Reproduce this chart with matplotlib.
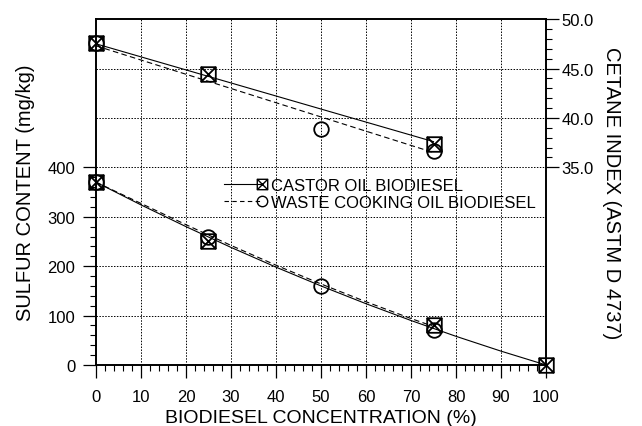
import numpy as np
import matplotlib
matplotlib.use('Agg')
import matplotlib.pyplot as plt
from matplotlib.path import Path
from matplotlib.lines import Line2D
from matplotlib.legend_handler import HandlerLine2D
from matplotlib.ticker import FixedLocator, FormatStrFormatter

plt.rcParams['font.family'] = ['Liberation Sans', 'DejaVu Sans']

# sulfur content (mg/kg)
castor_x = [0, 25, 75, 100]
castor_sulfur = [370, 250, 80, 0]
waste_x = [0, 25, 50, 75]
waste_sulfur = [370, 260, 160, 70]

# cetane index
castor_ci_x = [0, 25, 75]
castor_ci = [47.6, 44.4, 37.4]
waste_ci_x = [0, 50, 75]
waste_ci = [47.6, 38.9, 36.7]

# trend curves
curve_x = [0, 10, 20, 30, 40, 50, 60, 70, 80, 90, 100]
castor_sulfur_fit = [370, 324, 280, 238, 198, 160, 124, 90, 58, 28, 0]
waste_curve_x = [0, 10, 20, 30, 40, 50, 60, 70, 75]
waste_sulfur_fit = [370, 327, 284, 242, 202, 164, 128, 94, 78]
ci_fit_x = [0, 75]
castor_ci_fit = [47.5, 37.6]
waste_ci_fit = [47.3, 36.5]

# square with a cross inside
box_x = Path([(-1, -1), (1, -1), (1, 1), (-1, 1), (-1, -1),
              (-1, -1), (1, 1), (-1, 1), (1, -1)],
             [Path.MOVETO, Path.LINETO, Path.LINETO, Path.LINETO, Path.CLOSEPOLY,
              Path.MOVETO, Path.LINETO, Path.MOVETO, Path.LINETO])


class EndMarker(HandlerLine2D):
    # marker only at the right end of the legend line
    def create_artists(self, *args, **kwargs):
        arts = super().create_artists(*args, **kwargs)
        for a in arts:
            a.set_markevery([1])
        return arts


fig = plt.figure(figsize=(6.42, 4.27), dpi=100)
ax = fig.add_axes([0.1495, 0.1429, 0.701, 0.810])
ax2 = ax.twinx()

mk = dict(markersize=10.5, markerfacecolor='none', markeredgecolor='black',
          markeredgewidth=1.3, linestyle='none', clip_on=False, zorder=5)

ax.plot(curve_x, castor_sulfur_fit, color='black', lw=0.8)
ax.plot(waste_curve_x, waste_sulfur_fit, color='black', lw=0.8, ls=(0, (5, 3)))
ax.plot(castor_x, castor_sulfur, marker=box_x, **mk)
ax.plot(waste_x, waste_sulfur, marker='o', **mk)

ax2.plot(ci_fit_x, castor_ci_fit, color='black', lw=0.8)
ax2.plot(ci_fit_x, waste_ci_fit, color='black', lw=0.8, ls=(0, (5, 3)))
ax2.plot(castor_ci_x, castor_ci, marker=box_x, **mk)
ax2.plot(waste_ci_x, waste_ci, marker='o', **mk)

ax.set_xlim(0, 100)
ax.set_ylim(0, 700)
ax2.set_ylim(15, 50)

ax.set_xticks(np.arange(0, 101, 10))
ax.xaxis.set_minor_locator(FixedLocator(np.arange(0, 101, 2)))
ax.set_yticks([0, 100, 200, 300, 400])
ax.yaxis.set_minor_locator(FixedLocator(np.arange(0, 401, 20)))
ax2.set_yticks([35, 40, 45, 50])
ax2.yaxis.set_minor_locator(FixedLocator(np.arange(35, 51, 1)))
ax2.yaxis.set_major_formatter(FormatStrFormatter('%.1f'))

for a in (ax, ax2):
    a.tick_params(which='major', direction='out', length=9.5, width=0.9, labelsize=12)
    a.tick_params(which='minor', direction='out', length=4.5, width=0.8)
    for s in a.spines.values():
        s.set_linewidth(1.2)
ax.tick_params(axis='x', which='major', pad=7.5)
ax.tick_params(axis='y', which='major', pad=5.5)
ax2.tick_params(axis='y', which='major', pad=1.5)

# grid
for gx in range(10, 100, 10):
    ax.axvline(gx, color='black', lw=0.7, ls=(0, (1.5, 1.5)), zorder=0)
for gy in [100, 200, 300, 400, 500, 600]:
    ax.axhline(gy, color='black', lw=0.7, ls=(0, (1.5, 1.5)), zorder=0)

ax.set_xlabel('BIODIESEL CONCENTRATION (%)', fontsize=14, labelpad=4)
ax.set_ylabel('SULFUR CONTENT (mg/kg)', fontsize=14.5, labelpad=9)
ax2.set_ylabel('CETANE INDEX (ASTM D 4737)', fontsize=14.5, rotation=270, labelpad=20)

h1 = Line2D([], [], color='black', lw=0.8, marker=box_x,
            markersize=7.5, markerfacecolor='none', markeredgecolor='black')
h2 = Line2D([], [], color='black', lw=0.8, ls=(0, (4, 3)), marker='o',
            markersize=7.5, markerfacecolor='none', markeredgecolor='black')
ax.legend([h1, h2], ['CASTOR OIL BIODIESEL', 'WASTE COOKING OIL BIODIESEL'],
          handler_map={Line2D: EndMarker(numpoints=2, marker_pad=0)},
          loc='upper left', bbox_to_anchor=(0.284, 0.54), frameon=False,
          fontsize=12, handlelength=2.3, handletextpad=0.55, labelspacing=0.1,
          borderpad=0, borderaxespad=0)

fig.savefig('out.png', dpi=100)
